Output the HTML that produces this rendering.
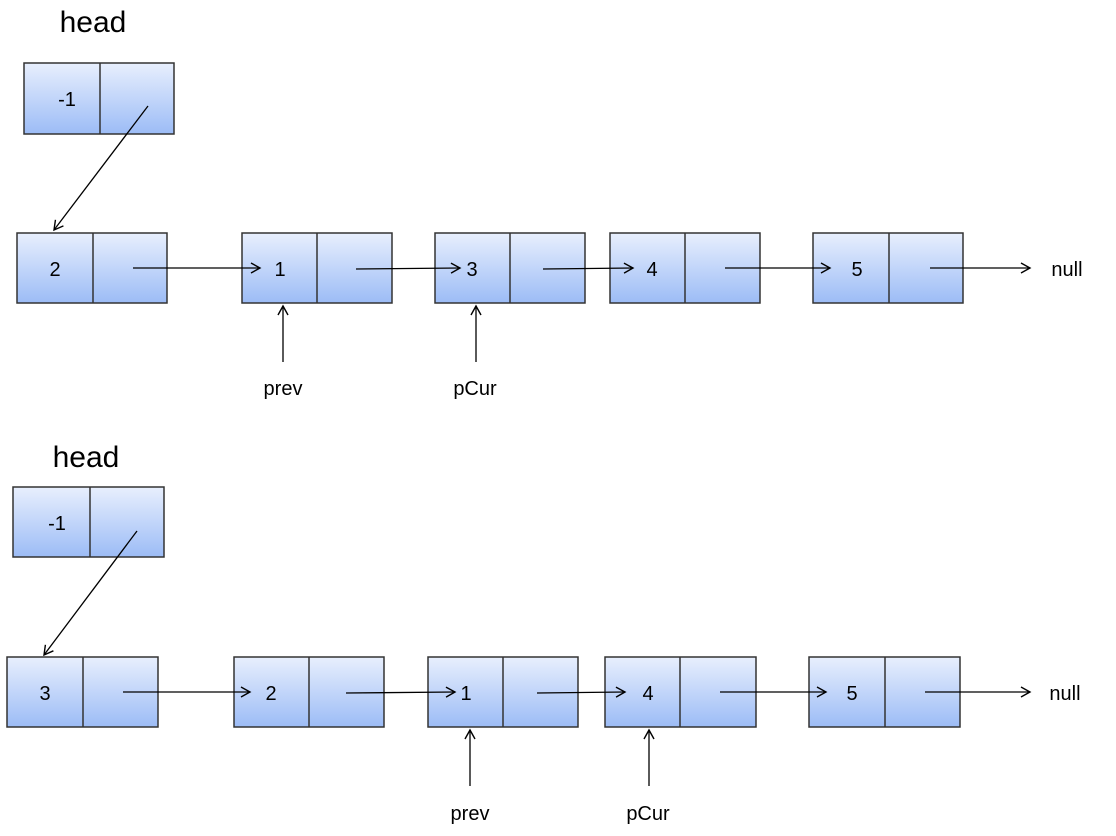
<!DOCTYPE html>
<html><head><meta charset="utf-8"><style>body{margin:0;background:#fff}svg{display:block}</style></head><body>
<svg width="1116" height="836" viewBox="0 0 1116 836" xmlns="http://www.w3.org/2000/svg" font-family="Liberation Sans, sans-serif">
<defs>
<linearGradient id="g" x1="0" y1="0" x2="0" y2="1"><stop offset="0" stop-color="#e8effd"/><stop offset="1" stop-color="#9cbcf6"/></linearGradient>
<marker id="a" markerWidth="12" markerHeight="12" refX="10" refY="6" orient="auto" markerUnits="userSpaceOnUse"><path d="M1,1 L10,6 L1,11" fill="none" stroke="#000" stroke-width="1.4"/></marker>
</defs>
<g stroke="#333" stroke-width="1.5" fill="url(#g)">
<rect x="24" y="63" width="150" height="71"/><line x1="100" y1="63" x2="100" y2="134"/>
<rect x="17" y="233" width="150" height="70"/><line x1="93" y1="233" x2="93" y2="303"/>
<rect x="242" y="233" width="150" height="70"/><line x1="317" y1="233" x2="317" y2="303"/>
<rect x="435" y="233" width="150" height="70"/><line x1="510" y1="233" x2="510" y2="303"/>
<rect x="610" y="233" width="150" height="70"/><line x1="685" y1="233" x2="685" y2="303"/>
<rect x="813" y="233" width="150" height="70"/><line x1="889" y1="233" x2="889" y2="303"/>
<rect x="13" y="487" width="151" height="70"/><line x1="90" y1="487" x2="90" y2="557"/>
<rect x="7" y="657" width="151" height="70"/><line x1="83" y1="657" x2="83" y2="727"/>
<rect x="234" y="657" width="150" height="70"/><line x1="309" y1="657" x2="309" y2="727"/>
<rect x="428" y="657" width="150" height="70"/><line x1="503" y1="657" x2="503" y2="727"/>
<rect x="605" y="657" width="151" height="70"/><line x1="680" y1="657" x2="680" y2="727"/>
<rect x="809" y="657" width="151" height="70"/><line x1="885" y1="657" x2="885" y2="727"/>
</g>
<g stroke="#000" stroke-width="1.3" marker-end="url(#a)">
<line x1="148" y1="106" x2="54" y2="230"/>
<line x1="133" y1="268" x2="260" y2="268"/>
<line x1="356" y1="269" x2="460" y2="268"/>
<line x1="543" y1="269" x2="633" y2="268"/>
<line x1="725" y1="268" x2="830" y2="268"/>
<line x1="930" y1="268" x2="1030" y2="268"/>
<line x1="283" y1="362" x2="283" y2="306"/>
<line x1="476" y1="362" x2="476" y2="306"/>
<line x1="137" y1="531" x2="44" y2="655"/>
<line x1="123" y1="692" x2="250" y2="692"/>
<line x1="346" y1="693" x2="455" y2="692"/>
<line x1="537" y1="693" x2="625" y2="692"/>
<line x1="720" y1="692" x2="826" y2="692"/>
<line x1="925" y1="692" x2="1030" y2="692"/>
<line x1="470" y1="786" x2="470" y2="730"/>
<line x1="649" y1="786" x2="649" y2="730"/>
</g>
<g font-size="20" text-anchor="middle" fill="#000">
<text x="67" y="106">-1</text>
<text x="55" y="276">2</text><text x="280" y="276">1</text><text x="472" y="276">3</text><text x="652" y="276">4</text><text x="857" y="276">5</text>
<text x="57" y="530">-1</text>
<text x="45" y="700">3</text><text x="271" y="700">2</text><text x="466" y="700">1</text><text x="648" y="700">4</text><text x="852" y="700">5</text>
<text x="283" y="395">prev</text><text x="475" y="395">pCur</text>
<text x="470" y="820">prev</text><text x="648" y="820">pCur</text>
<text x="1067" y="276">null</text><text x="1065" y="700">null</text>
</g>
<g font-size="30" text-anchor="middle" fill="#000">
<text x="93" y="32">head</text>
<text x="86" y="467">head</text>
</g>
</svg>
</body></html>
